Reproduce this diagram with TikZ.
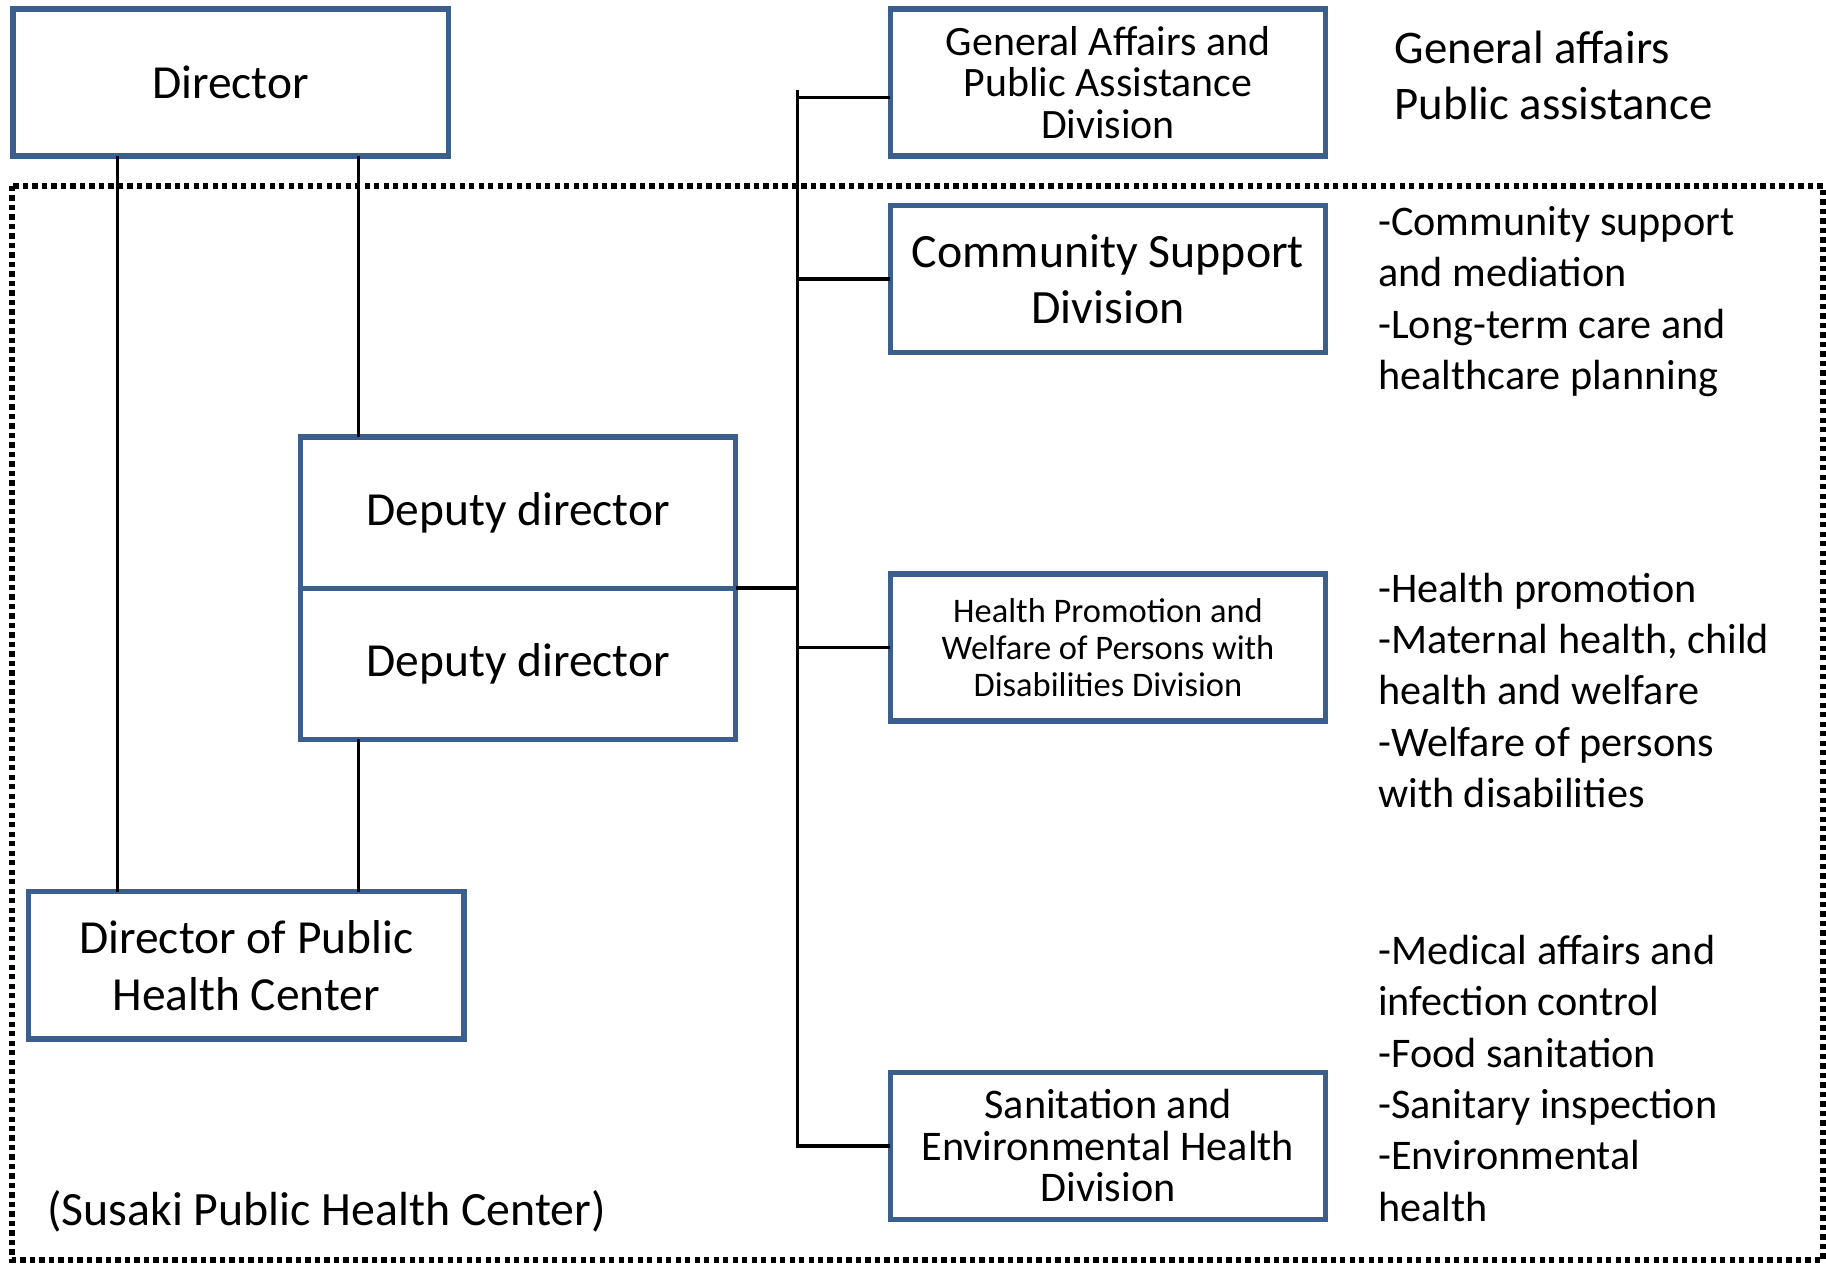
\documentclass[tikz,border=0pt]{standalone}
\usepackage{fontspec}
\setmainfont{Carlito}
\usetikzlibrary{positioning}
\definecolor{boxblue}{RGB}{59,95,140}

\begin{document}
\begin{tikzpicture}[x=0.01cm,y=-0.01cm,
    unit/.style={draw=boxblue,line width=1.5pt,minimum width=4.35cm,minimum height=1.47cm,
      inner sep=0pt,outer sep=0pt,align=center,font=\fontsize{13.5}{16.3}\selectfont},
    duties/.style={anchor=west,align=left,inner sep=0pt,font=\fontsize{12}{14.6}\selectfont},
    link/.style={line width=1pt}]
  \useasboundingbox (0,0) rectangle (1826,1264);
  \draw[line width=1.5pt,dash pattern=on 1.5pt off 1.2pt] (12,186) rectangle (1823,1260);

  \node[unit] (dir) at (230.6,82.5) {Director};
  \node[unit,minimum height=1.51cm] (dep1) at (518.2,512.6) {Deputy director};
  \node[unit,minimum height=1.51cm,below=0pt of dep1] (dep2) {Deputy director};
  \node[unit] (phc) at (246.3,965.4) {Director of Public\\Health Center};

  \node[unit,font=\fontsize{11.9}{11.7}\selectfont] (ga) at (1108,82.5) {General Affairs and\\Public Assistance\\Division};
  \node[unit,font=\fontsize{13.6}{15.9}\selectfont] (cs) at (1108,279) {Community Support\\Division};
  \node[unit,font=\fontsize{9.8}{10.6}\selectfont] (hp) at (1108,647.5) {Health Promotion and\\Welfare of Persons with\\Disabilities Division};
  \node[unit,font=\fontsize{12}{11.8}\selectfont] (se) at (1108,1145.8) {Sanitation and\\Environmental Health\\Division};

  \node[duties,font=\fontsize{13.3}{15.9}\selectfont] (gatxt) at (1394,75.7) {General affairs\\Public assistance};
  \node[duties] (cstxt) at (1377.6,301.6) {-Community support\\and mediation\\-Long-term care and\\healthcare planning};
  \node[duties] (hptxt) at (1377.6,690.5) {-Health promotion\\-Maternal health, child\\health and welfare\\-Welfare of persons\\with disabilities};
  \node[duties] (setxt) at (1377.6,1078.3) {-Medical affairs and\\infection control\\-Food sanitation\\-Sanitary inspection\\-Environmental\\health};

  \node[anchor=west,inner sep=0pt,font=\fontsize{13.6}{16}\selectfont] (susaki) at (46.6,1211) {(Susaki Public Health Center)};

  % lines from the director
  \coordinate (l1) at (117.6,0);
  \coordinate (l2) at (358.7,0);
  \draw[link] (dir.south -| l1) -- (phc.north -| l1);
  \draw[link] (dir.south -| l2) -- (dep1.north -| l2);
  \draw[link] (dep2.south -| l2) -- (phc.north -| l2);

  % trunk to the divisions
  \coordinate (trunktop) at (797.7,89.7);
  \draw[link] (trunktop) |- (se.west);
  \draw[link] (dep1.south east) -- (dep1.south east -| trunktop);
  \draw[link] ([yshift=-0.15cm]ga.west) -- ([yshift=-0.15cm]ga.west -| trunktop);
  \draw[link] (cs.west) -- (cs.west -| trunktop);
  \draw[link] (hp.west) -- (hp.west -| trunktop);
\end{tikzpicture}
\end{document}
